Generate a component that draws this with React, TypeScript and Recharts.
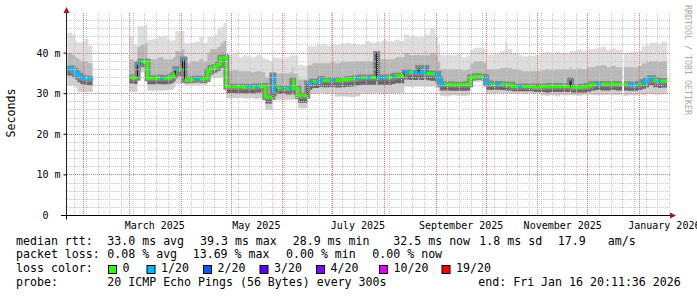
import { Area, ComposedChart, Line, ReferenceLine, XAxis, YAxis } from "recharts";

const MONO = '"DejaVu Sans Mono", monospace';

// x = days since 1 Jan 2025; a null median marks the end of a run of data
const days = [
  21.6, 24.6, 26.4, 27.6, 29.4, 31.8, 34.2, 36.6,
  58.8, 61.2, 63.6, 65.4, 67.8, 69.6, 72.6, 75.6, 77.4, 79.2,
  81.6, 83.4, 85.2, 86.4, 88.2, 90.6, 91.8, 95.4, 97.8, 100.8,
  103.2, 105.6, 107.4, 109.8, 111.6, 113.4, 115.2,
  117.0, 120.6, 124.2, 127.2, 129.6, 132.0, 134.4, 136.2, 138.6, 140.4,
  142.8, 144.6, 145.2, 147.0, 150.0, 152.4, 154.8, 156.6, 157.2, 160.2,
  163.2, 165.6, 168.6, 171.0, 173.4, 174.6, 177.0, 179.4, 182.4, 185.4,
  188.4, 191.4, 194.4, 197.4, 200.4, 203.4, 207.0, 207.6, 210.6, 213.6,
  216.6, 218.4, 221.4, 223.8, 226.8, 229.2, 232.2, 232.8, 236.4, 237.0,
  239.4, 242.4, 244.2, 245.4, 247.8, 251.4, 255.0, 258.6, 261.6, 263.4,
  265.8, 269.4, 271.8, 273.0, 275.4, 278.4, 281.4, 284.4, 285.6, 288.6,
  292.2, 294.6, 298.2, 301.8, 305.4, 308.4, 311.4, 314.4, 317.4, 320.4,
  323.4, 324.0, 327.0, 330.6, 333.6, 336.0, 339.0, 342.0, 345.0, 348.0,
  351.0, 354.0, 354.6,
  355.8, 358.2, 361.2, 364.2, 366.6, 369.0, 370.8, 373.2, 375.6, 378.0, 381.6,
];

// median rtt, ms
const median = [
  36.2, 35.6, 35.0, 34.4, 33.9, 33.7, 33.6, null,
  34.0, 33.9, 37.3, 37.9, 37.9, 33.8, 33.8, 33.9, 33.8, 33.8,
  33.8, 34.2, 34.6, 36.0, 36.0, 38.4, 33.4, 33.5, 33.7, 33.6,
  33.6, 35.4, 36.3, 36.5, 37.2, 38.8, 38.9,
  31.7, 31.7, 31.7, 31.6, 31.7, 31.6, 31.8, 31.8, 31.9, 29.2,
  29.2, 34.5, 30.6, 31.4, 31.4, 31.3, 31.3, 33.3, 31.3, 29.5,
  29.5, 32.5, 33.0, 33.0, 33.6, 33.3, 33.3, 33.4, 33.3, 33.4,
  33.5, 33.6, 33.8, 34.0, 34.0, 34.0, 39.8, 34.0, 34.0, 34.0,
  34.2, 34.4, 34.4, 35.3, 35.2, 35.2, 36.3, 35.2, 36.3, 35.0,
  34.9, 34.9, 33.5, 32.3, 32.3, 32.2, 32.2, 32.2, 32.3, 34.0,
  34.3, 34.2, 34.0, 32.5, 32.3, 32.4, 32.3, 32.2, 32.2, 31.8,
  31.8, 31.8, 31.8, 31.6, 31.8, 31.7, 31.9, 31.8, 31.9, 31.8,
  33.4, 31.6, 31.6, 31.7, 31.9, 32.3, 32.4, 32.3, 32.3, 32.4,
  32.3, 32.3, null,
  32.3, 32.2, 32.1, 32.4, 32.8, 33.3, 33.8, 33.3, 33.0, 33.1, null,
];

// lost pings out of 20
const loss = [
  1, 1, 1, 1, 1, 1, 1, null,
  0, 0, 1, 0, 0, 0, 0, 0, 1, 0,
  0, 0, 0, 1, 0, 1, 0, 0, 1, 0,
  0, 0, 0, 0, 0, 0, 0,
  0, 0, 0, 0, 1, 0, 1, 0, 0, 0,
  0, 1, 1, 0, 1, 0, 1, 0, 0, 0,
  0, 1, 0, 1, 1, 0, 0, 1, 0, 0,
  0, 0, 1, 0, 1, 0, 3, 1, 1, 0,
  1, 0, 0, 1, 0, 1, 0, 1, 1, 0,
  0, 1, 1, 1, 0, 0, 0, 0, 0, 0,
  0, 0, 1, 1, 0, 1, 0, 1, 0, 0,
  1, 0, 0, 0, 0, 0, 0, 0, 0, 0,
  1, 0, 0, 0, 0, 0, 1, 0, 0, 0,
  0, 0, null,
  0, 1, 1, 0, 1, 1, 1, 0, 1, 0, null,
];

// smoke: fastest ping, lower band edge, upper band edge, slowest ping (ms)
const pingMin = [
  32.0, 32.0, 31.5, 30.5, 30.4, 30.4, 30.4, null,
  30.5, 30.5, 33.5, 35.3, 35.3, 30.8, 30.8, 30.8, 30.8, 30.8,
  30.9, 31.0, 31.5, 32.5, 32.5, 33.0, 32.2, 32.2, 32.2, 32.2,
  32.2, 33.0, 34.0, 34.0, 34.0, 34.0, 34.0,
  28.9, 28.9, 29.0, 28.8, 28.9, 28.9, 28.7, 28.9, 28.9, 26.0,
  26.0, 29.0, 28.5, 28.5, 28.4, 28.5, 28.6, 28.5, 28.5, 26.4,
  26.4, 30.1, 30.0, 30.1, 30.2, 30.1, 30.0, 30.1, 29.3, 29.4,
  29.3, 29.2, 29.4, 30.1, 30.0, 30.1, 30.1, 30.1, 30.0, 30.1,
  30.1, 30.2, 30.1, 31.8, 31.7, 31.8, 31.8, 31.8, 31.8, 31.7,
  31.8, 31.8, 30.5, 29.5, 29.4, 29.6, 29.5, 29.5, 29.6, 33.0,
  33.0, 33.0, 33.0, 30.1, 30.0, 30.1, 30.2, 30.1, 30.1, 30.0,
  30.1, 29.9, 30.1, 30.0, 29.7, 29.5, 29.7, 29.4, 29.7, 29.6,
  29.7, 29.7, 29.5, 29.7, 29.8, 29.7, 29.6, 29.7, 29.8, 29.7,
  29.7, 29.7, null,
  29.5, 29.7, 29.6, 29.8, 29.7, 29.9, 30.0, 29.8, 29.8, 29.9, null,
];

const pingLow = [
  34.5, 34.0, 33.5, 32.8, 32.3, 32.2, 32.0, null,
  32.5, 32.4, 35.5, 36.5, 36.5, 32.3, 32.3, 32.4, 32.3, 32.3,
  32.3, 32.6, 33.0, 34.3, 34.3, 35.0, 32.6, 32.7, 32.8, 32.7,
  32.7, 34.0, 35.0, 35.2, 35.6, 36.5, 36.5,
  30.2, 30.2, 30.2, 30.1, 30.2, 30.1, 30.3, 30.3, 30.4, 27.6,
  27.6, 31.0, 29.3, 29.9, 29.9, 29.8, 29.8, 30.5, 29.8, 27.8,
  27.8, 31.0, 31.4, 31.4, 31.8, 31.6, 31.6, 31.7, 31.5, 31.6,
  31.7, 31.8, 32.0, 32.2, 32.2, 32.2, 33.0, 32.2, 32.2, 32.2,
  32.4, 32.6, 32.6, 33.5, 33.4, 33.4, 33.8, 33.4, 33.8, 33.3,
  33.2, 33.2, 32.0, 30.8, 30.8, 30.7, 30.7, 30.7, 30.8, 33.3,
  33.5, 33.5, 33.4, 31.0, 30.9, 31.0, 30.9, 30.8, 30.8, 30.6,
  30.6, 30.6, 30.6, 30.4, 30.4, 30.3, 30.4, 30.4, 30.4, 30.4,
  30.8, 30.3, 30.3, 30.3, 30.5, 30.8, 30.9, 30.8, 30.8, 30.9,
  30.8, 30.8, null,
  30.8, 30.7, 30.7, 30.9, 31.2, 31.6, 32.0, 31.6, 31.4, 31.5, null,
];

const pingHigh = [
  40.0, 39.5, 39.0, 38.5, 38.0, 38.0, 37.5, null,
  38.5, 38.0, 41.5, 42.0, 42.5, 38.5, 38.5, 39.0, 39.0, 38.5,
  38.5, 38.5, 39.0, 40.5, 40.5, 41.0, 37.5, 38.0, 38.0, 38.5,
  38.0, 40.0, 41.0, 41.0, 41.5, 42.5, 43.0,
  35.5, 35.8, 35.5, 35.5, 35.5, 35.3, 35.5, 35.5, 35.3, 34.0,
  34.0, 37.5, 35.0, 35.0, 35.0, 35.0, 35.2, 36.5, 35.0, 33.5,
  33.5, 37.0, 37.5, 37.5, 37.5, 37.5, 37.5, 37.8, 37.5, 37.8,
  37.8, 38.0, 38.0, 38.0, 38.0, 38.0, 39.0, 38.5, 38.5, 38.5,
  38.5, 39.0, 39.0, 40.0, 39.5, 39.5, 40.0, 39.5, 40.5, 39.5,
  40.0, 39.5, 38.0, 36.0, 36.0, 36.0, 36.0, 35.8, 36.0, 37.5,
  38.0, 38.0, 37.5, 36.0, 36.0, 36.0, 36.3, 36.5, 36.3, 36.0,
  35.8, 35.5, 35.5, 35.5, 35.8, 36.0, 35.8, 36.0, 36.0, 36.0,
  36.5, 36.0, 36.2, 36.0, 36.5, 36.5, 36.8, 37.0, 36.5, 36.8,
  36.5, 36.5, null,
  36.5, 36.5, 36.5, 36.8, 37.5, 37.8, 38.0, 38.0, 37.8, 38.0, null,
];

const pingMax = [
  45.0, 44.5, 43.0, 42.5, 42.8, 43.5, 41.8, null,
  44.0, 42.0, 46.6, 46.6, 47.0, 43.3, 43.5, 44.1, 44.0, 44.2,
  43.3, 43.0, 43.3, 45.4, 45.4, 45.5, 42.5, 42.5, 42.8, 44.0,
  42.5, 44.0, 44.1, 44.5, 46.0, 46.5, 47.4,
  39.2, 39.8, 39.0, 39.5, 39.2, 39.0, 39.4, 39.6, 38.8, 38.5,
  38.0, 40.4, 39.0, 38.8, 38.6, 39.0, 39.4, 40.4, 39.4, 37.1,
  36.8, 41.7, 41.7, 42.2, 41.9, 42.3, 41.8, 42.0, 42.0, 42.2,
  42.5, 42.3, 42.0, 42.0, 43.0, 42.6, 42.8, 42.8, 43.2, 43.0,
  42.9, 43.3, 43.0, 44.6, 44.0, 44.2, 43.8, 44.0, 46.2, 44.5,
  46.0, 44.0, 42.0, 39.6, 39.5, 39.5, 39.8, 39.0, 39.4, 40.8,
  41.3, 41.3, 40.8, 39.6, 39.6, 39.8, 40.5, 42.9, 41.0, 40.0,
  39.6, 39.2, 39.3, 39.5, 40.0, 40.2, 39.8, 40.3, 40.0, 40.1,
  40.6, 40.5, 40.8, 40.6, 40.9, 41.0, 41.2, 41.5, 40.8, 41.2,
  40.8, 40.8, null,
  40.0, 40.2, 40.3, 40.5, 41.7, 41.9, 42.5, 42.6, 42.3, 42.8, null,
];

const monthStarts = [31, 59, 90, 120, 151, 181, 212, 243, 273, 304, 334, 365];
const monthLabelDays = [74, 135, 196, 258, 319, 380];
const monthLabels = ["March 2025", "May 2025", "July 2025", "September 2025", "November 2025", "January 2026"];
const yTicks = [0, 10, 20, 30, 40];

const lossLevels = [0, 1, 2, 3, 4, 10, 19];
const lossLabels = ["0", "1/20", "2/20", "3/20", "4/20", "10/20", "19/20"];
const LOSS_COLORS = ["#26ff00", "#00b8ff", "#0059ff", "#5e00ff", "#7e00ff", "#dd00ff", "#ff0000"];
const LEGEND_BOX_X = [108.5, 147, 203.5, 260, 316.5, 379.5, 442];

const statLines: { y: number; items: [number, string][] }[] = [
  {
    y: 244.5,
    items: [
      [16, "median rtt:"], [107.3, "33.0 ms avg"], [200, "39.3 ms max"], [292.7, "28.9 ms min"],
      [393.3, "32.5 ms now"], [479.3, "1.8 ms sd"], [557.7, "17.9"], [607.7, "am/s"],
    ],
  },
  {
    y: 258.3,
    items: [
      [16, "packet loss:"], [107.3, "0.08 % avg"], [192.7, "13.69 % max"], [286, "0.00 % min"],
      [372.3, "0.00 % now"],
    ],
  },
  { y: 272, items: [[16, "loss color:"]] },
  {
    y: 286,
    items: [
      [16, "probe:"], [107.3, "20 ICMP Echo Pings (56 Bytes) every 300s"],
      [478.3, "end: Fri Jan 16 20:11:36 2026"],
    ],
  },
];

// grid: weekly (Mondays) and every 2 ms
const mondays = Array.from({ length: 52 }, (_, i) => 26 + i * 7);
const minorY = Array.from({ length: 25 }, (_, i) => (i + 1) * 2).filter((v) => v % 10 !== 0);
const majorY = [10, 20, 30, 40];

type StepRow = { day: number; [key: string]: number | null };

// each sample is held until the next one, rrdtool style
function buildSteps(): StepRow[] {
  const rows: StepRow[] = [];
  days.forEach((day, i) => {
    const m = median[i];
    if (m == null) {
      rows.push({ day, med: null, min: null, low: null, high: null, max: null });
      return;
    }
    const base: Record<string, number | null> = {
      med: m,
      min: pingMin[i],
      low: pingLow[i],
      high: pingHigh[i],
      max: pingMax[i],
    };
    lossLevels.forEach((level) => {
      base[`c${level}`] = loss[i] === level ? m : null;
    });
    rows.push({ day, ...base }, { day: days[i + 1], ...base });
  });
  return rows;
}

const stepRows = buildSteps();

const range = (lo: string, hi: string) => (r: StepRow) =>
  r[lo] == null || r[hi] == null ? null : [r[lo], r[hi]];

const tickStyle = { fontSize: 10, fontFamily: MONO, fill: "#000" };
const MINOR_GRID = "#c8c8c8";
const MAJOR_GRID = "#e07272";

export default function App() {
  return (
    <div style={{ position: "relative", width: 697, height: 297, background: "#fff" }}>
      <style>{"body{margin:0}"}</style>
      <ComposedChart
        width={697}
        height={297}
        data={stepRows}
        margin={{ top: 12.5, right: 27, bottom: 51.5, left: 6.5 }}
      >
        <XAxis
          type="number"
          dataKey="day"
          domain={[21, 383.4]}
          allowDataOverflow
          ticks={monthLabelDays}
          interval={0}
          tickFormatter={(d: number) => monthLabels[monthLabelDays.indexOf(d)]}
          tickLine={false}
          tickSize={0}
          tickMargin={6}
          tick={tickStyle}
          axisLine={{ stroke: "#000" }}
          height={30}
        />
        <YAxis
          type="number"
          domain={[0, 50]}
          allowDataOverflow
          ticks={yTicks}
          interval={0}
          tickFormatter={(v: number) => (v === 0 ? "0\u00a0\u00a0" : `${v} m`)}
          tickSize={3}
          tickMargin={3}
          tick={tickStyle}
          tickLine={{ stroke: "#000" }}
          axisLine={{ stroke: "#222" }}
          width={60}
        />

        <Area dataKey={range("min", "max")} type="linear" stroke="none" fill="#dedede" fillOpacity={1} isAnimationActive={false} />
        <Area dataKey={range("min", "low")} type="linear" stroke="none" fill="#cfcfcf" fillOpacity={1} isAnimationActive={false} />
        <Area dataKey={range("low", "high")} type="linear" stroke="none" fill="#b8b8b8" fillOpacity={1} isAnimationActive={false} />
        <Area dataKey={range("low", "med")} type="linear" stroke="none" fill="#686868" fillOpacity={1} isAnimationActive={false} />
        <Line dataKey="med" type="linear" stroke="#858585" strokeWidth={6} dot={false} activeDot={false} isAnimationActive={false} />
        <Line dataKey="med" type="linear" stroke="#111" strokeWidth={1} dot={false} activeDot={false} isAnimationActive={false} />
        {lossLevels.map((level, i) => (
          <Line
            key={level}
            dataKey={`c${level}`}
            type="linear"
            stroke={LOSS_COLORS[i]}
            strokeWidth={3}
            dot={false}
            activeDot={false}
            isAnimationActive={false}
          />
        ))}

        {minorY.map((v) => (
          <ReferenceLine key={`hy${v}`} y={v} stroke={MINOR_GRID} strokeDasharray="1 1" shapeRendering="crispEdges" />
        ))}
        {mondays.map((d) => (
          <ReferenceLine key={`vx${d}`} x={d} stroke={MINOR_GRID} strokeDasharray="1 1" shapeRendering="crispEdges" />
        ))}
        {majorY.map((v) => (
          <ReferenceLine key={`my${v}`} y={v} stroke={MAJOR_GRID} strokeDasharray="1 1" shapeRendering="crispEdges" />
        ))}
        {monthStarts.map((d) => (
          <ReferenceLine key={`mx${d}`} x={d} stroke={MAJOR_GRID} strokeDasharray="1 1" shapeRendering="crispEdges" />
        ))}
      </ComposedChart>

      <svg
        width={697}
        height={297}
        style={{ position: "absolute", left: 0, top: 0, pointerEvents: "none" }}
        fontFamily={MONO}
      >
        <polygon points="63.5,13 69.5,13 66.5,7" fill="#a01818" />
        <polygon points="670,212.5 670,218.5 676,215.5" fill="#a01818" />
        <line x1={61} x2={66.5} y1={215.5} y2={215.5} stroke="#000" />
        <line x1={66.5} x2={66.5} y1={215.5} y2={219.5} stroke="#000" />

        <text transform="translate(11,113) rotate(-90)" textAnchor="middle" dominantBaseline="central" fontSize={11.6} fill="#000">
          Seconds
        </text>
        <text transform="translate(687.5,60) rotate(90)" textAnchor="middle" dominantBaseline="central" fontSize={8.3} fill="#a8a8a8">
          RRDTOOL / TOBI OETIKER
        </text>

        {statLines.map((line) =>
          line.items.map(([x, s]) => (
            <text key={`${line.y}-${x}`} x={x} y={line.y} fontSize={11.6} fill="#000" style={{ whiteSpace: "pre" }}>
              {s}
            </text>
          ))
        )}
        {lossLabels.map((label, i) => (
          <g key={label}>
            <rect x={LEGEND_BOX_X[i]} y={265.5} width={8} height={8} fill={LOSS_COLORS[i]} stroke="#000" strokeWidth={1} />
            <text x={LEGEND_BOX_X[i] + 14} y={272} fontSize={11.6} fill="#000">
              {label}
            </text>
          </g>
        ))}
      </svg>
    </div>
  );
}
